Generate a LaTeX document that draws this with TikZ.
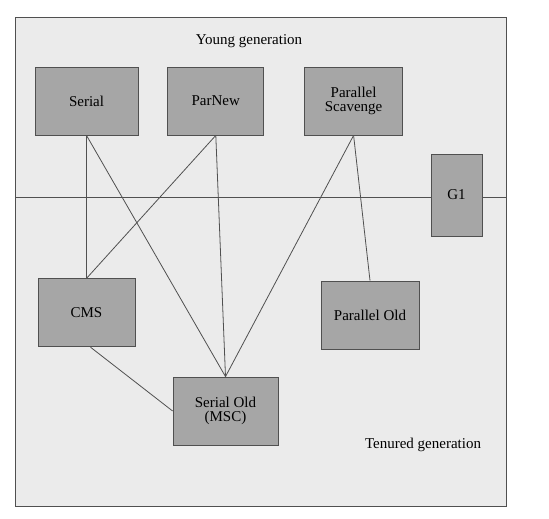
\documentclass[tikz,border=0pt]{standalone}
\usepackage{xcolor}
\usepackage{fontspec}
\setmainfont{Liberation Serif}
\usepackage{tikz}
\usetikzlibrary{positioning}

\definecolor{boxgray}{HTML}{A6A6A6}
\definecolor{linegray}{HTML}{505050}
\definecolor{bggray}{HTML}{EBEBEB}

\begin{document}
\begin{tikzpicture}[x=1pt, y=-1pt,
		gc/.style={rectangle, draw=linegray, fill=boxgray, line width=0.8pt, minimum height=68pt, align=center, inner sep=2pt},
		link/.style={draw=linegray, line width=0.8pt},
		font=\fontsize{15}{17}\selectfont]
			\useasboundingbox (0,0) rectangle (549,519);
			\draw[linegray, fill=bggray, line width=0.8pt] (15,17) rectangle (506,506);
			\draw[link] (15,197) -- (506,197);

			% Nodes
			\node (young) at (249,41) {Young generation};
			\node (serial) [gc, minimum width=103pt] at (86.5,101) {Serial};
			\node (parnew) [gc, minimum width=96pt, right=29pt of serial] {ParNew};
			\node (scavenge) [gc, minimum width=98pt, right=40pt of parnew] {Parallel\\[-3pt]Scavenge};
			\node (gone) [gc, minimum width=51pt, minimum height=82pt] at (456.5,195) {G1};
			\node (cms) [gc, minimum width=97pt, below=143pt of serial] {CMS};
			\node (parold) [gc, minimum width=98pt] at (370,315) {Parallel Old};
			\node (serialold) [gc, minimum width=105pt] at (225.5,411) {Serial Old\\[-3pt](MSC)};
			\node (tenured) at (423,445) {Tenured generation};

			% Edges
			\draw[link] (serial.south) -- (cms.north);
			\draw[link] (serial.south) -- (serialold.north);
			\draw[link] (parnew.south) -- (cms.north);
			\draw[link] (parnew.south) -- (serialold.north);
			\draw[link] (scavenge.south) -- (serialold.north);
			\draw[link] (scavenge.south) -- (parold.north);
			\draw[link] ([xshift=4pt]cms.south) -- (serialold.west);

		\end{tikzpicture}
\end{document}
